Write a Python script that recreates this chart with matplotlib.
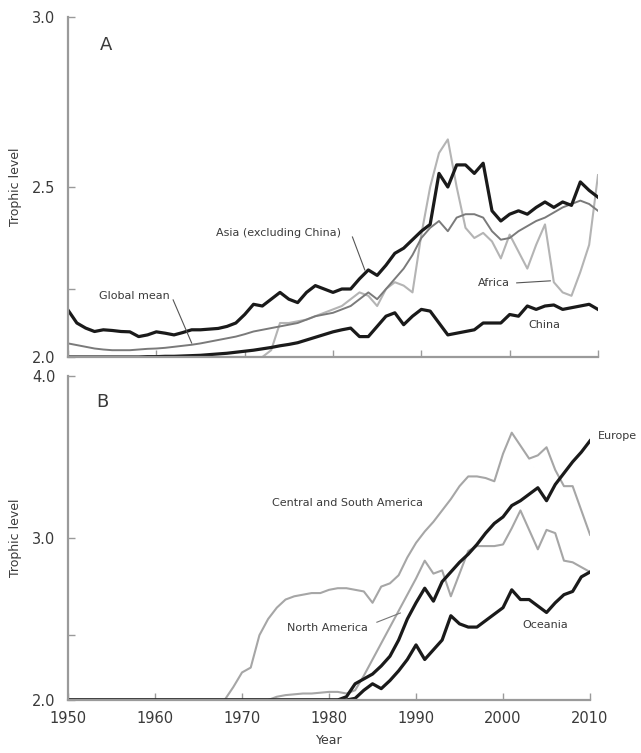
import matplotlib
matplotlib.use("Agg")
import matplotlib.pyplot as plt

plt.rcParams["font.family"] = ["DejaVu Sans"]

years = list(range(1950, 2011))

# panel A
asia = [2.138, 2.10, 2.085, 2.075, 2.08, 2.078, 2.075, 2.074, 2.06, 2.065,
        2.074, 2.07, 2.065, 2.072, 2.08, 2.08, 2.082, 2.084, 2.09, 2.10,
        2.125, 2.155, 2.15, 2.17, 2.19, 2.17, 2.16, 2.19, 2.21, 2.20,
        2.19, 2.20, 2.20, 2.23, 2.256, 2.24, 2.27, 2.305, 2.32, 2.345,
        2.37, 2.39, 2.54, 2.50, 2.565, 2.565, 2.54, 2.57, 2.43, 2.40,
        2.42, 2.43, 2.42, 2.44, 2.456, 2.44, 2.456, 2.446, 2.515, 2.49,
        2.47]
china = [2.0, 2.0, 2.0, 2.0, 2.0, 2.0, 2.0, 2.0, 2.0, 2.001,
         2.001, 2.002, 2.002, 2.003, 2.004, 2.005, 2.007, 2.009, 2.011, 2.014,
         2.017, 2.02, 2.024, 2.028, 2.033, 2.037, 2.042, 2.05, 2.058, 2.066,
         2.074, 2.08, 2.085, 2.06, 2.06, 2.09, 2.12, 2.13, 2.095, 2.12,
         2.14, 2.135, 2.10, 2.065, 2.07, 2.075, 2.08, 2.10, 2.10, 2.10,
         2.125, 2.12, 2.15, 2.14, 2.15, 2.153, 2.14, 2.145, 2.15, 2.155,
         2.14]
global_mean = [2.04, 2.035, 2.03, 2.025, 2.022, 2.02, 2.02, 2.02, 2.022, 2.024,
               2.025, 2.027, 2.03, 2.033, 2.036, 2.04, 2.045, 2.05, 2.055, 2.06,
               2.067, 2.075, 2.08, 2.085, 2.09, 2.095, 2.10, 2.11, 2.12, 2.125,
               2.13, 2.14, 2.15, 2.17, 2.19, 2.17, 2.20, 2.23, 2.26, 2.30,
               2.35, 2.38, 2.40, 2.37, 2.41, 2.42, 2.42, 2.41, 2.37, 2.345,
               2.35, 2.37, 2.385, 2.40, 2.41, 2.425, 2.44, 2.45, 2.46, 2.45,
               2.43]
africa = [2.0, 2.0, 2.0, 2.0, 2.0, 2.0, 2.0, 2.0, 2.0, 2.0,
          2.0, 2.0, 2.0, 2.0, 2.0, 2.0, 2.0, 2.0, 2.0, 2.0,
          2.0, 2.0, 2.0, 2.02, 2.10, 2.10, 2.105, 2.11, 2.12, 2.13,
          2.14, 2.15, 2.17, 2.19, 2.18, 2.15, 2.20, 2.22, 2.21, 2.19,
          2.36, 2.50, 2.60, 2.64, 2.50, 2.38, 2.35, 2.365, 2.34, 2.29,
          2.36, 2.31, 2.26, 2.33, 2.39, 2.22, 2.19, 2.18, 2.25, 2.33,
          2.535]

# panel B
central_south_america = [2.0, 2.0, 2.0, 2.0, 2.0, 2.0, 2.0, 2.0, 2.0, 2.0,
                         2.0, 2.0, 2.0, 2.0, 2.0, 2.0, 2.0, 2.0, 2.0, 2.08,
                         2.17, 2.20, 2.40, 2.50, 2.57, 2.62, 2.64, 2.65, 2.66, 2.66,
                         2.68, 2.69, 2.69, 2.68, 2.67, 2.60, 2.70, 2.72, 2.77, 2.88,
                         2.97, 3.04, 3.10, 3.17, 3.24, 3.32, 3.38, 3.38, 3.37, 3.35,
                         3.52, 3.65, 3.57, 3.49, 3.51, 3.56, 3.42, 3.32, 3.32, 3.17,
                         3.02]
north_america = [2.0, 2.0, 2.0, 2.0, 2.0, 2.0, 2.0, 2.0, 2.0, 2.0,
                 2.0, 2.0, 2.0, 2.0, 2.0, 2.0, 2.0, 2.0, 2.0, 2.0,
                 2.0, 2.0, 2.0, 2.0, 2.02, 2.03, 2.035, 2.04, 2.04, 2.045,
                 2.05, 2.05, 2.04, 2.06, 2.15, 2.25, 2.35, 2.45, 2.55, 2.65,
                 2.75, 2.86, 2.78, 2.80, 2.64, 2.78, 2.92, 2.95, 2.95, 2.95,
                 2.96, 3.06, 3.17, 3.05, 2.93, 3.05, 3.03, 2.86, 2.85, 2.82,
                 2.79]
europe = [2.0, 2.0, 2.0, 2.0, 2.0, 2.0, 2.0, 2.0, 2.0, 2.0,
          2.0, 2.0, 2.0, 2.0, 2.0, 2.0, 2.0, 2.0, 2.0, 2.0,
          2.0, 2.0, 2.0, 2.0, 2.0, 2.0, 2.0, 2.0, 2.0, 2.0,
          2.0, 2.0, 2.02, 2.10, 2.13, 2.16, 2.21, 2.27, 2.37, 2.50,
          2.60, 2.69, 2.61, 2.73, 2.79, 2.85, 2.90, 2.96, 3.03, 3.09,
          3.13, 3.20, 3.23, 3.27, 3.31, 3.23, 3.33, 3.40, 3.47, 3.53,
          3.60]
oceania = [2.0, 2.0, 2.0, 2.0, 2.0, 2.0, 2.0, 2.0, 2.0, 2.0,
           2.0, 2.0, 2.0, 2.0, 2.0, 2.0, 2.0, 2.0, 2.0, 2.0,
           2.0, 2.0, 2.0, 2.0, 2.0, 2.0, 2.0, 2.0, 2.0, 2.0,
           2.0, 2.0, 2.0, 2.01, 2.06, 2.10, 2.07, 2.12, 2.18, 2.25,
           2.34, 2.25, 2.31, 2.37, 2.52, 2.47, 2.45, 2.45, 2.49, 2.53,
           2.57, 2.68, 2.62, 2.62, 2.58, 2.54, 2.60, 2.65, 2.67, 2.76,
           2.79]

text_col = "#3a3a3a"
axis_col = "#9a9a9a"


def style_axes(ax, ylim, yticks, minor):
    ax.set_xlim(1950, 2010)
    ax.set_ylim(*ylim)
    for side in ["top", "right"]:
        ax.spines[side].set_visible(False)
    for side in ["left", "bottom"]:
        ax.spines[side].set_color(axis_col)
        ax.spines[side].set_linewidth(1.6)
    ax.set_xticks(range(1950, 2011, 10))
    ax.set_yticks(yticks)
    ax.set_yticks(minor, minor=True)
    ax.tick_params(direction="in", length=5, width=1, color=axis_col,
                   labelsize=10.5, labelcolor=text_col)
    ax.tick_params(axis="y", pad=9)
    ax.tick_params(axis="x", pad=8)
    ax.tick_params(which="minor", direction="in", length=5, width=1, color=axis_col)
    ax.set_ylabel("Trophic level", fontsize=9, color=text_col, labelpad=7)


fig = plt.figure(figsize=(6.41, 7.53), dpi=100)

# ---- panel A
ax1 = fig.add_axes([0.1061, 0.5259, 0.8268, 0.4515])
ax1.plot(years, africa, color="#b4b4b4", lw=1.5)
ax1.plot(years, global_mean, color="#7a7a7a", lw=1.4)
ax1.plot(years, china, color="#1a1a1a", lw=2.3)
ax1.plot(years, asia, color="#1a1a1a", lw=2.3)
style_axes(ax1, (2.0, 3.0), [2.0, 2.5, 3.0], [2.2])
ax1.set_yticklabels(["2.0", "2.5", "3.0"])
ax1.set_xticklabels([])

ax1.text(1954.3, 2.918, "A", fontsize=13, color=text_col, ha="center", va="center")
ax1.text(1973.8, 2.365, "Asia (excluding China)", fontsize=8, color=text_col,
         ha="center", va="center")
ax1.plot([1982.2, 1983.6], [2.353, 2.256], color="#555555", lw=0.8)
ax1.text(1957.5, 2.18, "Global mean", fontsize=8, color=text_col,
         ha="center", va="center")
ax1.plot([1961.9, 1964.0], [2.168, 2.041], color="#555555", lw=0.8)
ax1.text(1998.2, 2.218, "Africa", fontsize=8, color=text_col, ha="center", va="center")
ax1.plot([2000.8, 2004.6], [2.218, 2.224], color="#555555", lw=0.8)
ax1.text(2003.9, 2.094, "China", fontsize=8, color=text_col, ha="center", va="center")

# ---- panel B
ax2 = fig.add_axes([0.1061, 0.0704, 0.8144, 0.4303])
ax2.plot(years, central_south_america, color="#a6a6a6", lw=1.5)
ax2.plot(years, north_america, color="#a6a6a6", lw=1.5)
ax2.plot(years, oceania, color="#1a1a1a", lw=2.3)
ax2.plot(years, europe, color="#1a1a1a", lw=2.3)
style_axes(ax2, (2.0, 4.0), [2.0, 3.0, 4.0], [2.4])
ax2.set_yticklabels(["2.0", "3.0", "4.0"])
ax2.set_xlabel("Year", fontsize=9, color=text_col, labelpad=6)

ax2.text(1954.0, 3.84, "B", fontsize=13, color=text_col, ha="center", va="center")
ax2.text(1973.4, 3.216, "Central and South America", fontsize=8, color=text_col,
         ha="left", va="center")
ax2.text(1975.2, 2.444, "North America", fontsize=8, color=text_col,
         ha="left", va="center")
ax2.plot([1985.5, 1988.2], [2.48, 2.537], color="#777777", lw=0.8)
ax2.text(2010.9, 3.63, "Europe", fontsize=8, color=text_col, ha="left",
         va="center", clip_on=False)
ax2.text(2004.8, 2.463, "Oceania", fontsize=8, color=text_col, ha="center", va="center")

fig.savefig("out.png", dpi=100)
